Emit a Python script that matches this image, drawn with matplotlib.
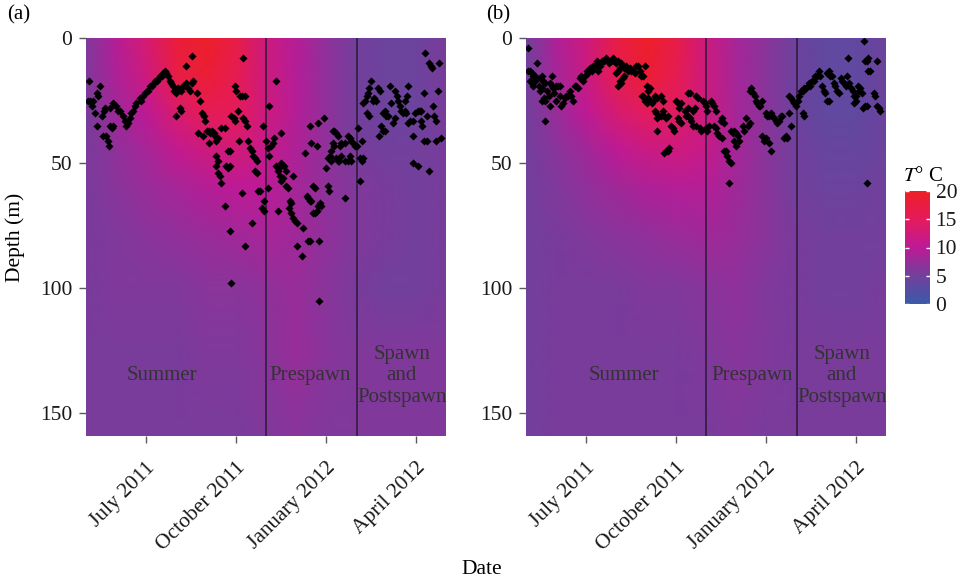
import numpy as np
import matplotlib
matplotlib.use("Agg")
import matplotlib.pyplot as plt
import matplotlib.dates as mdates
from matplotlib.colors import LinearSegmentedColormap

plt.rcParams['font.family'] = ['Liberation Serif', 'DejaVu Serif']
plt.rcParams['mathtext.fontset'] = 'stix'

# ---- data ----
start = np.datetime64('2011-05-01')

# temperature field (rows = depth, columns = date)
grid_dates = ['2011-05-01', '2011-06-01', '2011-07-01', '2011-08-01', '2011-09-01',
              '2011-10-01', '2011-11-01', '2011-12-01', '2012-01-01', '2012-02-01',
              '2012-03-01', '2012-04-01', '2012-05-02']
grid_depths = [0, 15, 30, 45, 60, 80, 100, 125, 160]

temp_a = [
    [6.0, 9.5, 13, 18, 19.5, 17, 12, 9.5, 7.0, 5.0, 4.5, 4.5, 5.5],
    [6.0, 9.0, 12, 17, 18.5, 16, 12, 9.5, 7.0, 5.0, 4.5, 4.5, 5.5],
    [5.5, 8.0, 10, 13.5, 15.5, 15, 12, 9.5, 7.0, 5.0, 4.5, 4.5, 5.5],
    [5.5, 7.0, 8.5, 10.5, 12, 12.5, 11, 9.0, 7.0, 5.5, 5.0, 5.0, 5.5],
    [5.5, 6.5, 7.5, 8.5, 9.5, 10, 10, 8.5, 7.0, 6.0, 5.5, 5.0, 5.5],
    [5.5, 6.0, 6.5, 7.0, 7.5, 8.0, 8.5, 8.0, 7.0, 6.0, 5.5, 5.0, 5.5],
    [5.5, 6.0, 6.0, 6.0, 6.5, 6.5, 7.0, 7.5, 6.5, 5.5, 5.0, 5.0, 5.5],
    [5.5, 5.5, 5.5, 5.5, 6.0, 6.0, 6.5, 7.5, 6.5, 6.0, 6.0, 6.0, 6.0],
    [5.5, 5.5, 5.5, 5.5, 5.5, 5.5, 6.0, 6.5, 6.0, 6.0, 6.0, 6.0, 6.0],
]
temp_b = [
    [5.0, 9.0, 12, 17, 19.5, 17, 12, 8.5, 6.5, 4.5, 3.5, 3.5, 4.5],
    [5.0, 8.5, 11.5, 16, 18.5, 16, 12, 8.5, 6.5, 4.5, 3.5, 3.5, 4.5],
    [5.0, 7.5, 10, 13, 15, 14.5, 12, 8.5, 6.5, 4.5, 3.5, 3.5, 4.5],
    [5.0, 6.5, 8.0, 10, 11.5, 12, 11, 8.5, 6.5, 5.0, 4.0, 4.0, 4.5],
    [5.0, 6.0, 7.0, 8.0, 9.0, 9.5, 9.5, 8.0, 6.5, 5.0, 4.5, 4.5, 5.0],
    [5.0, 5.5, 6.0, 6.5, 7.0, 7.5, 8.0, 7.5, 6.5, 5.5, 5.0, 5.0, 5.0],
    [5.0, 5.5, 5.5, 5.5, 6.0, 6.0, 6.5, 7.0, 6.0, 5.5, 5.0, 5.0, 5.5],
    [5.0, 5.5, 5.5, 5.5, 5.5, 5.5, 6.0, 6.5, 6.0, 5.5, 5.5, 5.5, 5.5],
    [5.0, 5.5, 5.5, 5.5, 5.5, 5.5, 5.5, 6.0, 5.5, 5.5, 5.5, 5.5, 5.5],
]

# fish positions: (days since 1 May 2011, depth m)
fish_a = [
    (3, 17), (2, 25), (4, 25), (7, 25), (6, 27), (11, 22), (12, 23), (14, 19), (9, 30), (11, 35),
    (16, 31), (18, 29), (19, 28), (17, 39), (20, 39), (22, 41), (23, 43), (24, 35), (26, 36), (28, 35),
    (24, 28), (28, 26), (31, 27), (33, 29), (35, 29), (38, 31), (40, 33), (41, 35), (43, 34), (45, 32),
    (46, 30), (48, 29), (50, 27), (51, 26), (55, 24), (56, 25), (58, 23), (60, 22), (62, 21), (63, 21),
    (65, 19), (67, 19), (69, 18), (70, 17), (72, 17), (74, 16), (75, 15), (77, 15), (79, 14), (81, 13),
    (82, 14), (84, 15), (86, 17), (87, 18), (89, 19), (90, 21), (92, 22), (92, 31), (96, 28), (97, 29),
    (94, 20), (97, 21), (99, 19), (101, 19), (102, 18), (104, 20), (106, 21), (108, 18), (109, 17), (102, 11),
    (108, 7), (113, 22), (116, 25), (118, 30), (120, 31), (121, 33), (123, 37), (125, 37), (126, 38), (128, 37),
    (130, 38), (114, 38), (119, 39), (125, 42), (131, 39), (133, 41), (135, 40), (138, 36), (142, 36), (133, 47),
    (135, 49), (133, 51), (135, 54), (137, 55), (138, 58), (142, 67), (143, 51), (145, 52), (147, 51), (145, 45),
    (147, 45), (147, 77), (148, 98), (148, 31), (151, 32), (152, 33), (152, 19), (153, 21), (155, 29), (157, 23),
    (159, 23), (162, 23), (156, 41), (159, 62), (160, 8), (160, 32), (162, 33), (162, 83), (164, 35), (165, 41),
    (167, 44), (169, 45), (170, 47), (172, 48), (174, 49), (169, 74), (172, 53), (174, 54), (175, 61), (177, 61),
    (179, 68), (181, 69), (180, 35), (181, 65), (184, 41), (186, 44), (187, 47), (186, 60), (187, 27), (189, 43),
    (191, 42), (192, 40), (194, 17), (194, 51), (196, 53), (197, 52), (199, 38), (198, 55), (199, 57), (201, 56),
    (199, 50), (202, 51), (204, 53), (196, 69), (204, 59), (206, 60), (208, 65), (209, 66), (211, 55), (207, 68),
    (209, 70), (211, 72), (213, 73), (215, 74), (215, 83), (220, 87), (221, 76), (223, 46), (225, 63), (226, 64),
    (228, 65), (229, 65), (226, 81), (228, 81), (228, 35), (229, 42), (231, 70), (233, 70), (235, 69), (237, 67),
    (231, 59), (233, 60), (235, 43), (237, 34), (238, 105), (238, 81), (239, 66), (240, 67), (243, 32), (245, 52),
    (247, 59), (248, 61), (250, 45), (252, 42), (253, 43), (247, 48), (249, 47), (250, 49), (252, 37), (253, 37),
    (255, 38), (257, 39), (255, 48), (257, 49), (258, 49), (260, 47), (259, 43), (260, 42), (264, 42), (264, 64),
    (264, 49), (267, 49), (269, 47), (270, 49), (267, 39), (269, 40), (270, 41), (272, 42), (274, 43), (276, 43),
    (277, 36), (279, 48), (281, 49), (282, 48), (281, 41), (279, 57), (282, 26), (284, 25), (286, 23), (287, 22),
    (289, 20), (291, 17), (286, 30), (289, 31), (293, 25), (294, 24), (296, 25), (298, 20), (300, 21), (299, 39),
    (301, 35), (303, 37), (305, 37), (303, 30), (305, 29), (306, 31), (308, 31), (310, 19), (311, 26), (313, 34),
    (315, 32), (315, 21), (317, 23), (318, 25), (320, 27), (321, 29), (323, 30), (325, 29), (326, 30), (325, 25),
    (327, 23), (328, 19), (328, 34), (330, 33), (333, 33), (333, 39), (333, 50), (338, 51), (335, 30), (338, 29),
    (340, 29), (342, 29), (342, 33), (343, 35), (345, 41), (348, 41), (345, 22), (346, 6), (348, 31), (350, 53),
    (350, 10), (352, 11), (353, 12), (354, 27), (355, 31), (357, 33), (357, 41), (359, 21), (360, 10), (362, 40),
]
fish_b = [
    (2, 4), (2, 13), (4, 13), (6, 14), (7, 15), (9, 15), (4, 17), (6, 18), (7, 19), (9, 17),
    (11, 10), (13, 19), (14, 21), (16, 20), (17, 17), (19, 18), (14, 16), (16, 15), (16, 25), (18, 24),
    (19, 25), (19, 33), (21, 21), (23, 23), (24, 27), (24, 18), (26, 19), (26, 15), (28, 20), (29, 20),
    (31, 19), (33, 19), (35, 19), (29, 22), (31, 25), (35, 23), (36, 27), (38, 26), (40, 24), (41, 23),
    (43, 23), (45, 21), (46, 23), (48, 25), (50, 19), (51, 19), (53, 20), (55, 16), (56, 15), (58, 17),
    (60, 15), (62, 13), (63, 14), (65, 12), (67, 13), (68, 11), (70, 11), (72, 9), (73, 10), (73, 13),
    (75, 11), (77, 9), (79, 9), (80, 9), (82, 8), (84, 9), (85, 10), (87, 9), (89, 8), (90, 9),
    (92, 10), (94, 9), (92, 14), (94, 13), (96, 12), (97, 10), (99, 11), (100, 12), (96, 17), (97, 18),
    (99, 16), (100, 15), (94, 19), (102, 11), (104, 13), (106, 12), (107, 13), (109, 13), (111, 14), (112, 11),
    (114, 11), (116, 13), (117, 15), (119, 15), (121, 11), (118, 23), (119, 23), (121, 25), (123, 26), (123, 19),
    (124, 21), (126, 20), (124, 24), (126, 25), (128, 26), (129, 25), (131, 29), (133, 30), (134, 32), (136, 31),
    (138, 31), (131, 23), (134, 24), (138, 23), (140, 25), (134, 37), (140, 29), (141, 31), (143, 32), (145, 31),
    (141, 46), (143, 45), (145, 45), (146, 44), (148, 35), (150, 36), (151, 37), (153, 25), (155, 26), (156, 28),
    (158, 26), (155, 32), (156, 33), (158, 34), (162, 29), (165, 28), (165, 22), (167, 22), (163, 31), (165, 31),
    (167, 32), (168, 33), (170, 29), (172, 28), (173, 23), (175, 24), (170, 35), (173, 35), (177, 36), (178, 37),
    (180, 25), (182, 26), (184, 27), (185, 29), (184, 36), (185, 37), (187, 35), (189, 25), (190, 26), (192, 27),
    (194, 29), (192, 35), (194, 36), (195, 38), (197, 39), (199, 33), (200, 32), (202, 34), (200, 40), (202, 45),
    (204, 45), (205, 47), (207, 49), (209, 50), (207, 58), (209, 37), (211, 38), (212, 37), (214, 38), (212, 41),
    (214, 43), (216, 39), (217, 41), (221, 35), (222, 37), (224, 32), (226, 35), (228, 34), (228, 21), (229, 20),
    (231, 22), (233, 23), (234, 25), (236, 26), (238, 27), (239, 27), (241, 25), (241, 39), (243, 41), (245, 40),
    (245, 30), (246, 31), (248, 31), (248, 42), (250, 45), (250, 30), (251, 31), (253, 32), (255, 33), (256, 34),
    (258, 33), (260, 31), (261, 31), (263, 40), (265, 39), (266, 40), (268, 30), (270, 35), (268, 23), (270, 24),
    (272, 25), (273, 26), (275, 27), (277, 25), (278, 23), (280, 21), (282, 21), (282, 30), (283, 31), (283, 20),
    (285, 20), (287, 19), (288, 18), (290, 19), (292, 17), (294, 17), (295, 15), (297, 15), (299, 13), (300, 15),
    (302, 19), (304, 21), (305, 22), (307, 25), (309, 25), (307, 14), (309, 13), (310, 15), (312, 15), (314, 18),
    (315, 19), (317, 21), (319, 22), (321, 16), (322, 17), (324, 18), (326, 19), (327, 15), (328, 8), (329, 18),
    (331, 20), (333, 21), (334, 23), (336, 23), (334, 26), (336, 25), (338, 19), (339, 21), (341, 20), (343, 22),
    (344, 28), (346, 27), (348, 27), (345, 1), (346, 9), (348, 9), (349, 8), (349, 13), (351, 13), (348, 58),
    (355, 22), (356, 23), (358, 9), (358, 27), (360, 28), (361, 29),
]

season_breaks = ['2011-11-01', '2012-02-01']
tick_dates = ['2011-07-01', '2011-10-01', '2012-01-01', '2012-04-01']
tick_labels = ['July 2011', 'October 2011', 'January 2012', 'April 2012']
depth_ticks = [0, 50, 100, 150]

# (days since start, depth) where the season names sit in each panel
season_pos_a = [(77, 135), (228, 135), (322, 135)]
season_pos_b = [(100, 135), (231, 135), (322, 135)]
season_names = ['Summer', 'Prespawn', 'Spawn\nand\nPostspawn']

cmap = LinearSegmentedColormap.from_list(
    'tc', [(0.0, '#3a5aa9'), (0.25, '#72409c'), (0.5, '#bd1a96'),
           (0.75, '#e41b5c'), (1.0, '#ee1f25')])

fig = plt.figure(figsize=(9.65, 5.81), dpi=100)

W, H = 965, 581
ax_a = fig.add_axes([86 / W, 1 - 436 / H, 360 / W, 398 / H])
ax_b = fig.add_axes([526 / W, 1 - 436 / H, 360 / W, 398 / H])

gx = mdates.date2num(np.array(grid_dates, dtype='datetime64[D]'))
gy = np.array(grid_depths, dtype=float)
GX, GY = np.meshgrid(gx, gy)

for ax, temp, fish, spos in [(ax_a, temp_a, fish_a, season_pos_a),
                             (ax_b, temp_b, fish_b, season_pos_b)]:
    mesh = ax.pcolormesh(GX, GY, np.array(temp), shading='gouraud',
                         cmap=cmap, vmin=0, vmax=20, zorder=0)
    days = np.array([p[0] for p in fish])
    depth = np.array([p[1] for p in fish])
    ax.scatter(start + days.astype('timedelta64[D]'), depth, marker='D',
               s=17, color='black', linewidths=0, zorder=3)
    for d in season_breaks:
        ax.axvline(np.datetime64(d), color='#2b1a35', lw=1.1, zorder=2)
    for (dd, dep), name in zip(spos, season_names):
        ax.text(start + np.timedelta64(dd, 'D'), dep, name, ha='center', va='center',
                fontsize=15, color='#333333', linespacing=1.15, zorder=4)
    ax.set_xlim(np.datetime64('2011-05-01'), np.datetime64('2012-05-02'))
    ax.set_ylim(159, 0)
    ax.set_yticks(depth_ticks)
    ax.set_xticks(np.array(tick_dates, dtype='datetime64[D]'))
    ax.set_xticklabels(tick_labels, rotation=45, ha='right', va='top',
                       rotation_mode='anchor')
    for s in ax.spines.values():
        s.set_visible(False)
    ax.tick_params(axis='both', color='#5a5a5a', length=5, width=1,
                   labelsize=15.5, labelcolor='#1a1a1a')
    ax.tick_params(axis='y', pad=5)
    ax.tick_params(axis='x', pad=11)

cax = fig.add_axes([905 / W, 1 - 304 / H, 25 / W, 113 / H])
cb = fig.colorbar(mesh, cax=cax, ticks=[0, 5, 10, 15, 20])
cb.outline.set_visible(False)
cax.tick_params(which='both', direction='in', color='white', length=3, width=1,
                left=True, right=True, labelsize=15.5, labelcolor='#1a1a1a', pad=4)
fig.text(903 / W, 1 - 177 / H, '$T$° C', fontsize=15, ha='left', va='center')

fig.text(15 / W, 1 - 237 / H, 'Depth (m)', rotation=90, fontsize=15.5,
         ha='center', va='center')
fig.text(482 / W, 1 - 569 / H, 'Date', fontsize=15.5, ha='center', va='center')
fig.text(7 / W, 1 - 15 / H, '(a)', fontsize=15, ha='left', va='center')
fig.text(486 / W, 1 - 15 / H, '(b)', fontsize=15, ha='left', va='center')

fig.savefig('out.png', dpi=100)
